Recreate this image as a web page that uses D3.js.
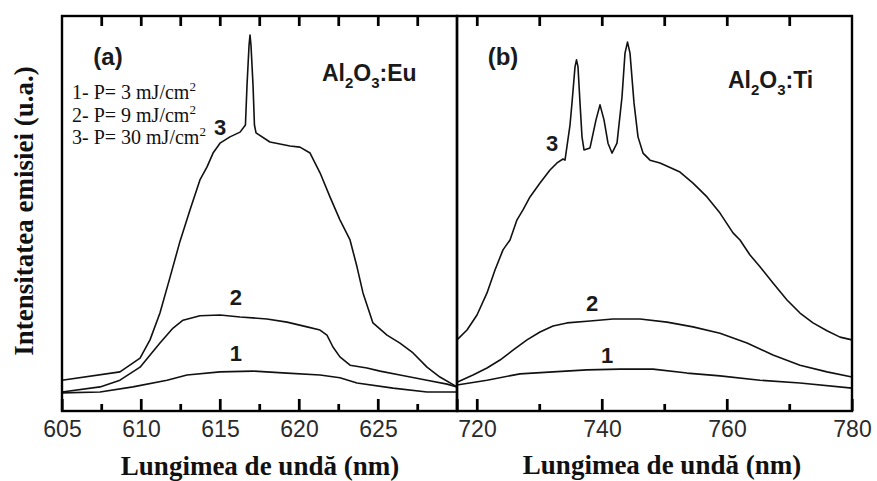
<!DOCTYPE html>
<html>
<head>
<meta charset="utf-8">
<script src="https://cdn.jsdelivr.net/npm/d3@7"></script>
<style>
  html, body { margin: 0; padding: 0; background: #fff; }
  svg { display: block; }
</style>
</head>
<body>
<script>
// ---------- DATA ----------
// Panel (a): Al2O3:Eu, wavelength (nm) vs intensity (a.u., 0-100)
const euX1 = [605, 607.41, 609.49, 611.65, 612.91, 615.0, 617.09, 619.24, 621.33, 622.59, 623.67, 625.95, 628.10, 630];
const euY1 = [4.6, 4.8, 6.1, 7.8, 9.1, 9.9, 10.1, 9.6, 9.1, 8.4, 7.1, 5.8, 4.8, 4.8];

const euX2 = [605, 607.41, 608.67, 609.94, 611.20, 612.03, 612.66, 613.73, 615.0, 616.27, 617.97, 619.24, 620.51, 621.33, 621.77, 622.15, 622.59, 623.23, 624.30, 625.13, 626.39, 628.10, 629.37, 630];
const euY2 = [4.8, 6.1, 7.8, 11.1, 17.2, 21.0, 23.0, 24.1, 24.3, 23.8, 23.3, 22.5, 21.3, 20.5, 19.2, 16.2, 13.7, 11.6, 10.9, 10.1, 9.1, 7.8, 6.8, 6.1];

const euX3 = [605, 608.67, 609.94, 610.57, 611.20, 611.84, 612.47, 613.10, 613.73, 614.18, 614.56, 615.0, 615.63, 616.27, 616.61, 616.71, 616.84, 616.90, 616.96, 617.09, 617.18, 617.28, 618.16, 619.43, 620.06, 620.70, 621.33, 621.96, 622.59, 623.23, 623.67, 624.05, 624.68, 625.57, 626.39, 627.22, 628.10, 628.92, 630];
const euY3 = [7.8, 9.9, 13.4, 18.0, 24.8, 33.9, 43.0, 50.9, 58.5, 61.8, 65.3, 67.8, 69.4, 70.6, 72.4, 82.5, 92.7, 95.2, 92.7, 82.5, 72.4, 70.4, 68.1, 67.1, 66.8, 65.3, 60.3, 54.2, 48.4, 43.3, 36.5, 29.9, 22.3, 19.2, 17.2, 14.7, 11.1, 8.6, 6.1];

// Panel (b): Al2O3:Ti
const tiX1 = [716.8, 721.6, 726.88, 732.16, 737.6, 742.88, 748.16, 753.6, 758.88, 765.28, 771.68, 780];
const tiY1 = [6.6, 7.8, 9.4, 9.9, 10.4, 10.6, 10.6, 9.6, 8.9, 7.8, 7.1, 5.8];

const tiX2 = [716.8, 719.36, 721.6, 723.68, 725.76, 728.0, 730.08, 732.16, 734.4, 738.08, 741.76, 746.08, 750.4, 754.56, 758.88, 763.2, 767.36, 771.68, 776.0, 780];
const tiY2 = [7.3, 9.1, 10.9, 12.9, 15.4, 18.0, 20.0, 21.5, 22.3, 22.8, 23.3, 23.3, 22.5, 21.3, 19.7, 17.2, 14.2, 11.6, 9.9, 8.6];

const tiX3 = [716.8, 718.4, 720.0, 721.6, 722.88, 724.16, 725.28, 726.4, 727.36, 728.48, 730.08, 731.68, 732.8, 733.76, 734.08, 734.88, 735.2, 735.68, 735.92, 736.16, 736.48, 736.8, 737.12, 738.08, 739.04, 739.68, 740.32, 740.96, 741.6, 742.4, 743.2, 743.68, 744.08, 744.48, 745.12, 745.76, 746.56, 747.68, 749.28, 752.48, 754.56, 756.8, 758.88, 760.96, 762.08, 763.68, 765.28, 767.36, 769.6, 771.68, 773.76, 776.0, 778.08, 780];
const tiY3 = [18.0, 20.5, 24.3, 29.9, 35.7, 40.8, 43.3, 48.4, 50.9, 54.2, 57.7, 61.0, 62.8, 63.8, 63.5, 72.4, 78.0, 87.1, 88.9, 87.1, 78.0, 69.4, 66.1, 66.6, 73.7, 77.5, 73.7, 67.8, 65.3, 67.8, 79.5, 90.6, 93.4, 90.6, 78.0, 69.4, 65.3, 63.5, 62.8, 60.5, 57.7, 54.2, 50.1, 45.1, 43.3, 39.5, 36.5, 32.4, 28.1, 24.8, 22.3, 20.3, 18.7, 18.0];

// Axis ticks
const euDomain = [605, 630];
const tiDomain = [716.8, 780];
const euMajorTicks = [605, 610, 615, 620, 625, 630];
const euTickLabels = ["605", "610", "615", "620", "625", ""];
const euMinorTicks = [607.5, 612.5, 617.5, 622.5, 627.5];
const euTopTicks = [607.5, 610, 612.5, 615, 617.5, 620, 622.5, 625, 627.5];
const tiMajorTicks = [720, 740, 760, 780];
const tiTickLabels = ["720", "740", "760", "780"];
const tiMinorTicks = [730, 750, 770];
const tiTopTicks = [720, 730, 740, 750, 760, 770];

// Curve number labels [x, y, text]
const euCurveLabels = [[616.0, 14.7, "1"], [616.0, 28.9, "2"], [615.0, 72.0, "3"]];
const tiCurveLabels = [[740.8, 14.2, "1"], [738.4, 27.3, "2"], [732.0, 67.8, "3"]];
const legendLines = [["1- P= 3 mJ/cm", "2"], ["2- P= 9 mJ/cm", "2"], ["3- P= 30 mJ/cm", "2"]];

// ---------- LAYOUT ----------
const W = 877, H = 481;
const yTop = 16, yBot = 411;
const aLeft = 62, aRight = 457, bLeft = 457, bRight = 852;

const svg = d3.select("body").append("svg").attr("width", W).attr("height", H);
svg.append("rect").attr("width", W).attr("height", H).attr("fill", "#fff");

const yScale = d3.scaleLinear().domain([0, 100]).range([yBot, yTop]);
const xa = d3.scaleLinear().domain(euDomain).range([aLeft, aRight]);
const xb = d3.scaleLinear().domain(tiDomain).range([bLeft, bRight]);

function zip(xs, ys) { return xs.map((v, i) => [v, ys[i]]); }

function drawPanel(sx, series, major, labels, minor, topTicks) {
  const g = svg.append("g");
  // bottom labels + major ticks (inward)
  const bm = g.append("g").attr("transform", `translate(0,${yBot})`).style("color", "#000")
    .call(d3.axisBottom(sx).tickValues(major).tickSizeInner(-12).tickSizeOuter(0).tickPadding(10)
      .tickFormat((d, i) => labels[i]));
  bm.select(".domain").remove();
  bm.selectAll(".tick line").attr("stroke", "#000").attr("stroke-width", 2.2);
  bm.selectAll("text").attr("font-family", "Arial, 'Liberation Sans', sans-serif")
    .attr("font-size", 23).attr("fill", "#2a2a2a");
  // bottom minor ticks
  const bn = g.append("g").attr("transform", `translate(0,${yBot})`).style("color", "#000")
    .call(d3.axisBottom(sx).tickValues(minor).tickSizeInner(-7).tickSizeOuter(0).tickFormat(""));
  bn.select(".domain").remove();
  bn.selectAll(".tick line").attr("stroke", "#000").attr("stroke-width", 2.2);
  // top ticks (inward)
  const tt = g.append("g").attr("transform", `translate(0,${yTop})`).style("color", "#000")
    .call(d3.axisTop(sx).tickValues(topTicks).tickSizeInner(-10).tickSizeOuter(0).tickFormat(""));
  tt.select(".domain").remove();
  tt.selectAll(".tick line").attr("stroke", "#000").attr("stroke-width", 2.2);

  const lineGen = d3.line().x(d => sx(d[0])).y(d => yScale(d[1]));
  series.forEach(s => {
    g.append("path").datum(s).attr("d", lineGen)
      .attr("fill", "none").attr("stroke", "#111").attr("stroke-width", 1.6)
      .attr("stroke-linejoin", "round");
  });
}

drawPanel(xa, [zip(euX1, euY1), zip(euX2, euY2), zip(euX3, euY3)],
  euMajorTicks, euTickLabels, euMinorTicks, euTopTicks);
drawPanel(xb, [zip(tiX1, tiY1), zip(tiX2, tiY2), zip(tiX3, tiY3)],
  tiMajorTicks, tiTickLabels, tiMinorTicks, tiTopTicks);

svg.append("rect").attr("x", aLeft).attr("y", yTop).attr("width", aRight - aLeft).attr("height", yBot - yTop)
  .attr("fill", "none").attr("stroke", "#000").attr("stroke-width", 2.4);
svg.append("rect").attr("x", bLeft).attr("y", yTop).attr("width", bRight - bLeft).attr("height", yBot - yTop)
  .attr("fill", "none").attr("stroke", "#000").attr("stroke-width", 2.4);

const sans = "Arial, 'Liberation Sans', sans-serif";
function curveLabels(sx, arr) {
  svg.append("g").selectAll("text").data(arr).join("text")
    .attr("x", d => sx(d[0])).attr("y", d => yScale(d[1]))
    .attr("text-anchor", "middle").attr("dy", "0.36em")
    .attr("font-family", sans).attr("font-weight", "bold").attr("font-size", 22)
    .attr("fill", "#1a1a1a").text(d => d[2]);
}
curveLabels(xa, euCurveLabels);
curveLabels(xb, tiCurveLabels);

svg.append("text").attr("x", 108).attr("y", 65).attr("text-anchor", "middle")
  .attr("font-family", sans).attr("font-weight", "bold").attr("font-size", 24).attr("fill", "#1a1a1a").text("(a)");
svg.append("text").attr("x", 503).attr("y", 65).attr("text-anchor", "middle")
  .attr("font-family", sans).attr("font-weight", "bold").attr("font-size", 24).attr("fill", "#1a1a1a").text("(b)");

function formula(xp, yp, parts) {
  const t = svg.append("text").attr("x", xp).attr("y", yp)
    .attr("font-family", sans).attr("font-weight", "bold").attr("font-size", 23).attr("fill", "#1a1a1a");
  parts.forEach(p => {
    const ts = t.append("tspan").text(p[0]);
    if (p[1]) ts.attr("font-size", 15).attr("dy", 7);
    else if (p[2]) ts.attr("dy", -7);
  });
}
formula(322, 81, [["Al"], ["2", true], ["O", false, true], ["3", true], [":Eu", false, true]]);
formula(728, 88, [["Al"], ["2", true], ["O", false, true], ["3", true], [":Ti", false, true]]);

const serif = "'Times New Roman', 'Liberation Serif', serif";
const leg = svg.append("g");
legendLines.forEach((l, i) => {
  const t = leg.append("text").attr("x", 72).attr("y", 99 + i * 22.5)
    .attr("font-family", serif).attr("font-size", 20).attr("fill", "#111");
  t.append("tspan").text(l[0]);
  t.append("tspan").text(l[1]).attr("font-size", 13).attr("dy", -8);
});

svg.append("text").attr("x", 260).attr("y", 475).attr("text-anchor", "middle")
  .attr("font-family", serif).attr("font-weight", "bold").attr("font-size", 27).attr("fill", "#111")
  .text("Lungimea de undă (nm)");
svg.append("text").attr("x", 662).attr("y", 474).attr("text-anchor", "middle")
  .attr("font-family", serif).attr("font-weight", "bold").attr("font-size", 27).attr("fill", "#111")
  .text("Lungimea de undă (nm)");
svg.append("text").attr("transform", "translate(33,211) rotate(-90)").attr("text-anchor", "middle")
  .attr("font-family", serif).attr("font-weight", "bold").attr("font-size", 27).attr("fill", "#111")
  .text("Intensitatea emisiei (u.a.)");

// extra inward tick marks drawn last as filled rects (guarantees visibility)
function tickRects(sx, vals, yStart, len) {
  svg.append("g").selectAll("rect").data(vals).join("rect")
    .attr("x", d => sx(d) - 1.1).attr("width", 2.2)
    .attr("y", len < 0 ? yStart + len : yStart).attr("height", Math.abs(len))
    .attr("fill", "#000");
}
tickRects(xa, euMajorTicks, yBot, -12);
tickRects(xa, euMinorTicks, yBot, -7);
tickRects(xa, euTopTicks, yTop, 10);
tickRects(xb, tiMajorTicks, yBot, -12);
tickRects(xb, tiMinorTicks, yBot, -7);
tickRects(xb, tiTopTicks, yTop, 10);
</script>
</body>
</html>
